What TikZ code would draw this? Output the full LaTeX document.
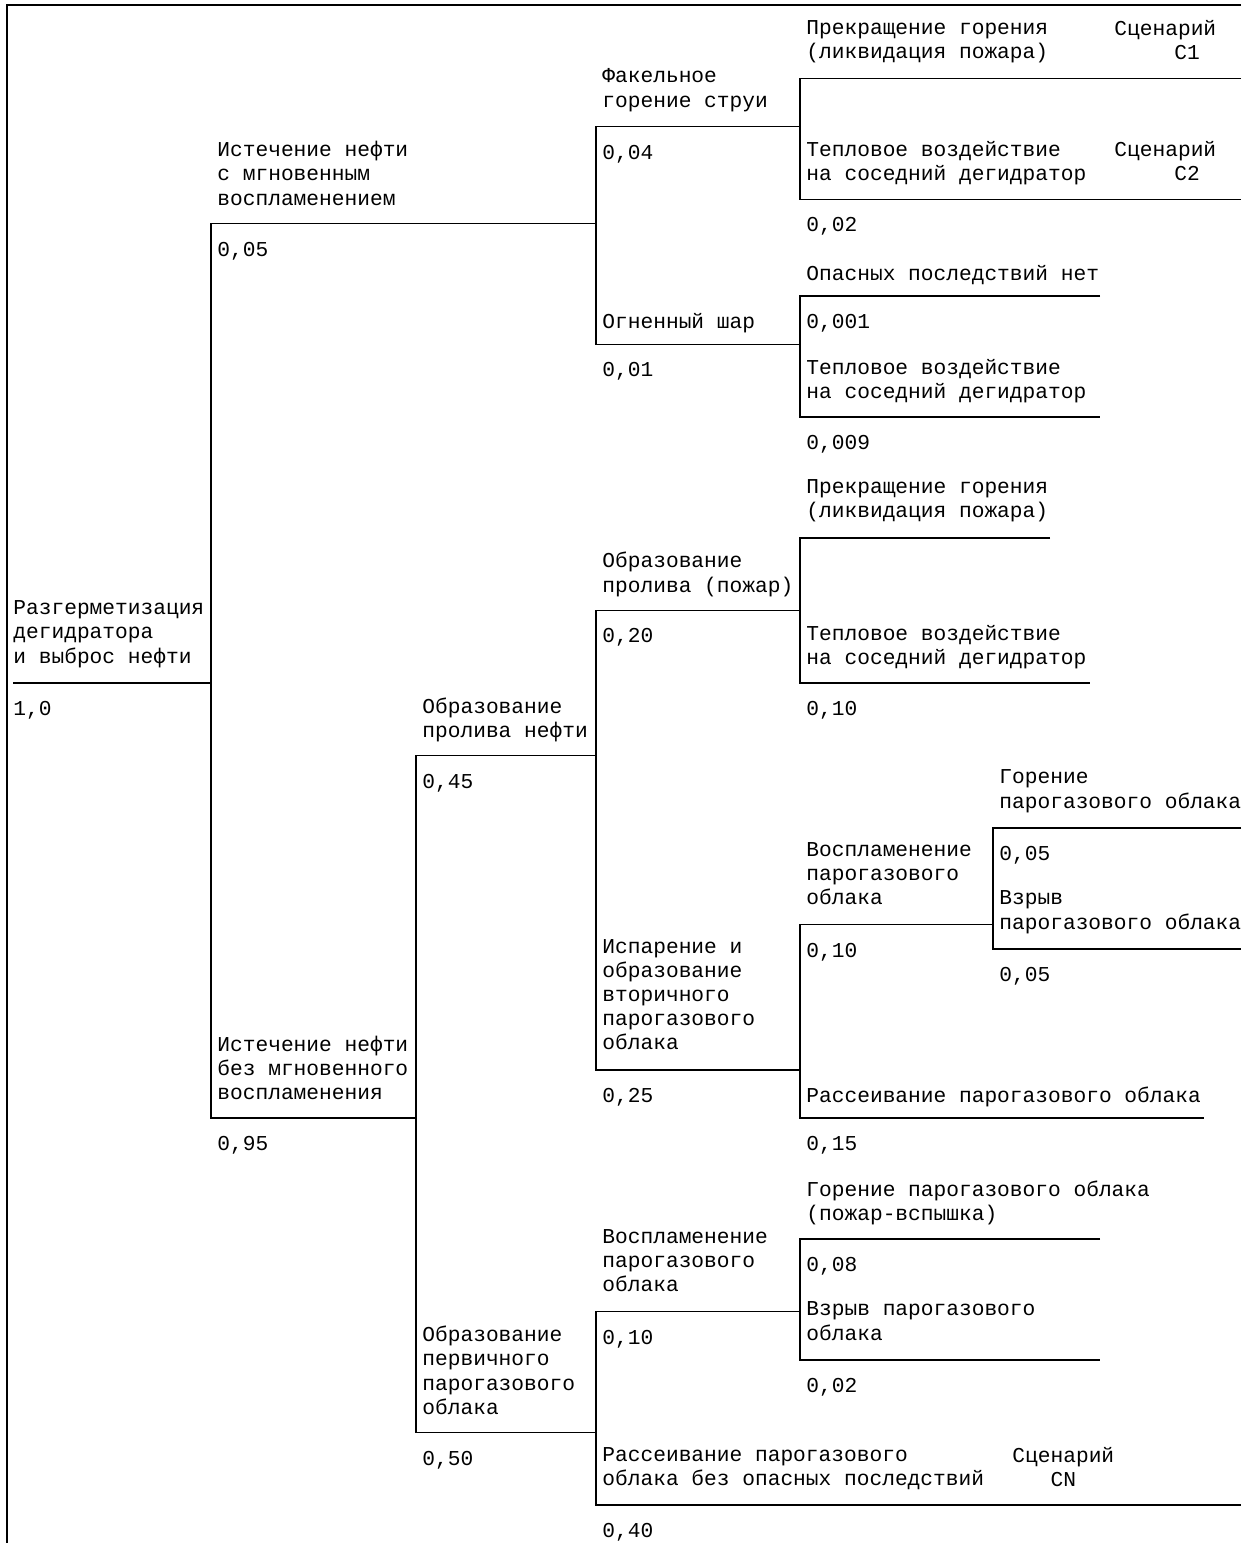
\documentclass[tikz,border=0pt]{standalone}
\usepackage{fontspec}
\newfontfamily\treefont{Liberation Mono}

\begin{document}
\begin{tikzpicture}[
    x=0.5pt, y=-12.09pt,
    ev/.style={anchor=north west, inner sep=0pt, yshift=5pt, align=left,
               font=\treefont\fontsize{10.6}{12.09}\selectfont,
               execute at begin node={\rule{0pt}{9pt}}},
    scn/.style={ev, align=center},
    ln/.style={line width=0.75pt, black}
  ]
    \useasboundingbox (0,-0.2407) rectangle (1241,63.57);

    % frame
    \coordinate (fr-tr) at (1241,-0.03);
    \coordinate (fr-tl) at (7,-0.03);
    \coordinate (fr-bl) at (7,63.57);
    \draw[ln] (fr-tr) -- (fr-tl) -- (fr-bl);

    % initiating event
    \node[ev] (root) at (13,25) {Разгерметизация\\дегидратора\\и выброс нефти};
    \node[ev] (p-root) at (13,29) {1,0};

    % level 1
    \node[ev] (leakI) at (217,6) {Истечение нефти\\с мгновенным\\воспламенением};
    \node[ev] (p-leakI) at (217,10) {0,05};
    \node[ev] (leakN) at (217,43) {Истечение нефти\\без мгновенного\\воспламенения};
    \node[ev] (p-leakN) at (217,47) {0,95};

    % immediate ignition
    \node[ev] (jet) at (602,3) {Факельное\\горение струи};
    \node[ev] (p-jet) at (602,6) {0,04};
    \node[ev] (fball) at (602,13) {Огненный шар};
    \node[ev] (p-fball) at (602,15) {0,01};

    \node[ev] (jstop) at (806,1) {Прекращение горения\\(ликвидация пожара)};
    \node[ev] (sc1) at (1114,1) {Сценарий\\\hspace*{30pt}С1};
    \node[ev] (jheat) at (806,6) {Тепловое воздействие\\на соседний дегидратор};
    \node[ev] (sc2) at (1114,6) {Сценарий\\\hspace*{30pt}С2};
    \node[ev] (p-jheat) at (806,9) {0,02};

    \node[ev] (fnone) at (806,11) {Опасных последствий нет};
    \node[ev] (p-fnone) at (806,13) {0,001};
    \node[ev] (fheat) at (806,15) {Тепловое воздействие\\на соседний дегидратор};
    \node[ev] (p-fheat) at (806,18) {0,009};

    % no immediate ignition
    \node[ev] (spill) at (422,29) {Образование\\пролива нефти};
    \node[ev] (p-spill) at (422,32) {0,45};
    \node[ev] (cloudI) at (422,55) {Образование\\первичного\\парогазового\\облака};
    \node[ev] (p-cloudI) at (422,60) {0,50};

    \node[ev] (pfire) at (602,23) {Образование\\пролива (пожар)};
    \node[ev] (p-pfire) at (602,26) {0,20};
    \node[ev] (evap) at (602,39) {Испарение и\\образование\\вторичного\\парогазового\\облака};
    \node[ev] (p-evap) at (602,45) {0,25};

    \node[ev] (pstop) at (806,20) {Прекращение горения\\(ликвидация пожара)};
    \node[ev] (pheat) at (806,26) {Тепловое воздействие\\на соседний дегидратор};
    \node[ev] (p-pheat) at (806,29) {0,10};

    \node[ev] (ign2) at (806,35) {Воспламенение\\парогазового\\облака};
    \node[ev] (p-ign2) at (806,39) {0,10};
    \node[ev] (disp2) at (806,45) {Рассеивание парогазового облака};
    \node[ev] (p-disp2) at (806,47) {0,15};

    \node[ev] (burn2) at (999,32) {Горение\\парогазового облака};
    \node[ev] (p-burn2) at (999,35) {0,05};
    \node[ev] (expl2) at (999,37) {Взрыв\\парогазового облака};
    \node[ev] (p-expl2) at (999,40) {0,05};

    \node[ev] (ign1) at (602,51) {Воспламенение\\парогазового\\облака};
    \node[ev] (p-ign1) at (602,55) {0,10};
    \node[ev] (disp1) at (602,60) {Рассеивание парогазового\\облака без опасных последствий};
    \node[scn] (scN) at (1012,60) {Сценарий\\CN};
    \node[ev] (p-disp1) at (602,63) {0,40};

    \node[ev] (burn1) at (806,49) {Горение парогазового облака\\(пожар-вспышка)};
    \node[ev] (p-burn1) at (806,52) {0,08};
    \node[ev] (expl1) at (806,54) {Взрыв парогазового\\облака};
    \node[ev] (p-expl1) at (806,57) {0,02};

    % branch ends
    \coordinate (root-s) at (13,28);
    \coordinate (root-e) at (211,28);
    \coordinate (leakI-e) at (596,9);
    \coordinate (leakN-e) at (416,46);
    \coordinate (jet-e) at (800,5);
    \coordinate (fball-e) at (800,14);
    \coordinate (jstop-e) at (1241,3);
    \coordinate (jheat-e) at (1241,8);
    \coordinate (fnone-e) at (1100,12);
    \coordinate (fheat-e) at (1100,17);
    \coordinate (spill-e) at (596,31);
    \coordinate (cloudI-e) at (596,59);
    \coordinate (pfire-e) at (800,25);
    \coordinate (evap-e) at (800,44);
    \coordinate (pstop-e) at (1050,22);
    \coordinate (pheat-e) at (1090,28);
    \coordinate (ign2-e) at (993,38);
    \coordinate (disp2-e) at (1204,46);
    \coordinate (burn2-e) at (1241,34);
    \coordinate (expl2-e) at (1241,39);
    \coordinate (ign1-e) at (800,54);
    \coordinate (disp1-e) at (1241,62);
    \coordinate (burn1-e) at (1100,51);
    \coordinate (expl1-e) at (1100,56);

    % tree lines
    \draw[ln] (root-s) -- (root-e);
    \draw[ln] (leakI-e) -| (root-e) |- (leakN-e);
    \draw[ln] (jet-e) -| (leakI-e) |- (fball-e);
    \draw[ln] (jstop-e) -| (jet-e) |- (jheat-e);
    \draw[ln] (fnone-e) -| (fball-e) |- (fheat-e);
    \draw[ln] (spill-e) -| (leakN-e) |- (cloudI-e);
    \draw[ln] (pfire-e) -| (spill-e) |- (evap-e);
    \draw[ln] (pstop-e) -| (pfire-e) |- (pheat-e);
    \draw[ln] (ign2-e) -| (evap-e) |- (disp2-e);
    \draw[ln] (burn2-e) -| (ign2-e) |- (expl2-e);
    \draw[ln] (ign1-e) -| (cloudI-e) |- (disp1-e);
    \draw[ln] (burn1-e) -| (ign1-e) |- (expl1-e);
  \end{tikzpicture}
\end{document}
